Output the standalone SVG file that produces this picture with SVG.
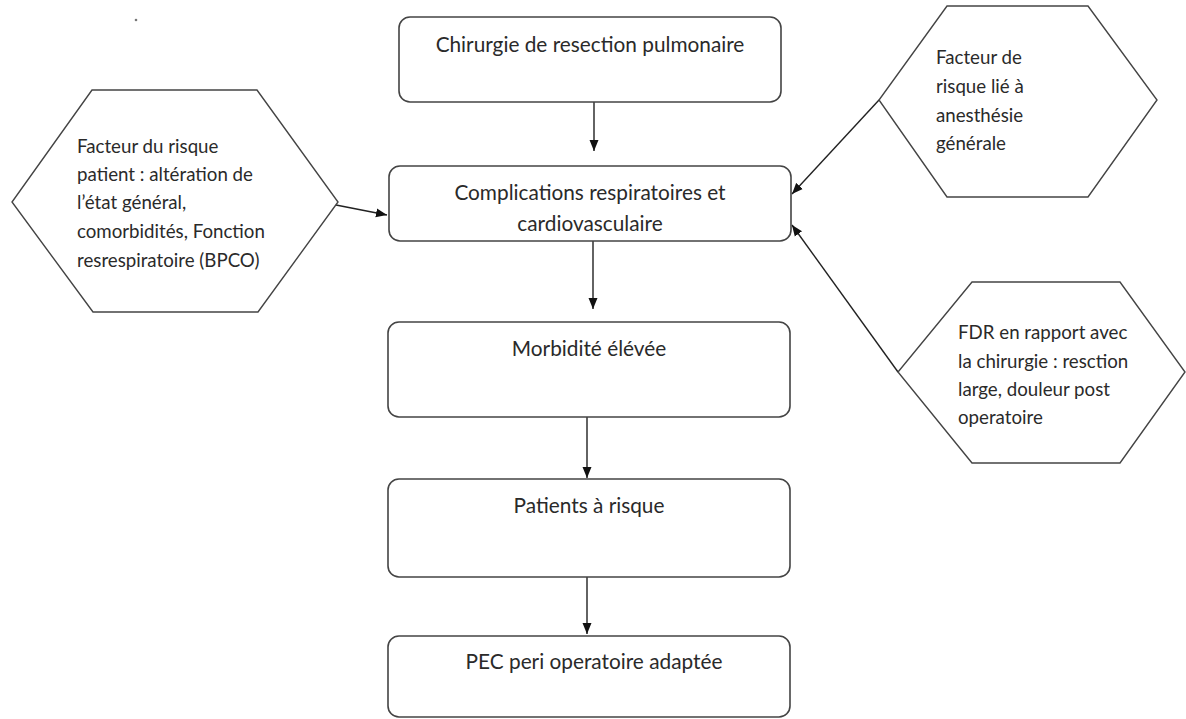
<svg xmlns="http://www.w3.org/2000/svg" width="1186" height="719" viewBox="0 0 1186 719">
<style>
.box{fill:#fff;stroke:#444;stroke-width:1.6}
.hex{fill:#fff;stroke:#444;stroke-width:1.4}
.t{font-family:Lato,"Open Sans","Liberation Sans",sans-serif;font-size:18.7px;fill:#2a2a2a}
.b{font-size:20.8px;text-anchor:middle}
.edge{fill:none;stroke:#222;stroke-width:1.4}
</style>
<defs>
<marker id="ah" markerUnits="userSpaceOnUse" markerWidth="12" markerHeight="10" refX="11" refY="5" orient="auto">
<path d="M0,0.5 L11,5 L0,9.5 z" fill="#111"/>
</marker>
</defs>
<rect width="1186" height="719" fill="#fff"/>
<circle cx="136" cy="20" r="1.3" fill="#777"/>
<g id="connectors">
<line class="edge" x1="594" y1="102" x2="594" y2="151" marker-end="url(#ah)"/>
<line class="edge" x1="593" y1="241" x2="593" y2="309" marker-end="url(#ah)"/>
<line class="edge" x1="587" y1="417" x2="587" y2="478" marker-end="url(#ah)"/>
<line class="edge" x1="587" y1="577" x2="587" y2="634" marker-end="url(#ah)"/>
<line class="edge" x1="336" y1="205" x2="387" y2="215" marker-end="url(#ah)"/>
<line class="edge" x1="879" y1="100" x2="792" y2="194" marker-end="url(#ah)"/>
<line class="edge" x1="898" y1="372" x2="792" y2="225" marker-end="url(#ah)"/>
</g>
<g id="n_chirurgie">
<rect class="box" x="399" y="17" width="382" height="85" rx="11"/>
<text class="t b" x="590" y="52">Chirurgie de resection pulmonaire</text>
</g>
<g id="n_complications">
<rect class="box" x="389" y="166" width="402" height="75" rx="11"/>
<text class="t b" x="590" y="200">Complications respiratoires et</text>
<text class="t b" x="590" y="231">cardiovasculaire</text>
</g>
<g id="n_morbidite">
<rect class="box" x="388" y="322" width="402" height="95" rx="11"/>
<text class="t b" x="589" y="356">Morbidité élévée</text>
</g>
<g id="n_patients">
<rect class="box" x="388" y="479" width="402" height="98" rx="11"/>
<text class="t b" x="589" y="513">Patients à risque</text>
</g>
<g id="n_pec">
<rect class="box" x="388" y="636" width="402" height="81" rx="11"/>
<text class="t b" x="594" y="669">PEC peri operatoire adaptée</text>
</g>
<g id="n_patient_risk">
<polygon class="hex" points="92,90 257,90 338,202 258,312 93,312 12,202"/>
<text class="t" x="77" y="153">Facteur du risque</text>
<text class="t" x="77" y="181">patient : altération de</text>
<text class="t" x="77" y="209">l’état général,</text>
<text class="t" x="77" y="238">comorbidités, Fonction</text>
<text class="t" x="77" y="267">resrespiratoire (BPCO)</text>
</g>
<g id="n_anesthesie">
<polygon class="hex" points="947,6 1088,6 1157,100 1088,197 947,197 879,100"/>
<text class="t" x="936" y="64">Facteur de</text>
<text class="t" x="936" y="93">risque lié à</text>
<text class="t" x="936" y="122">anesthésie</text>
<text class="t" x="936" y="150">générale</text>
</g>
<g id="n_chirurgie_risk">
<polygon class="hex" points="972,282 1120,282 1185,372 1120,463 972,463 898,372"/>
<text class="t" x="958" y="339">FDR en rapport avec</text>
<text class="t" x="958" y="368">la chirurgie : resction</text>
<text class="t" x="958" y="396">large, douleur post</text>
<text class="t" x="958" y="424">operatoire</text>
</g>
</svg>
